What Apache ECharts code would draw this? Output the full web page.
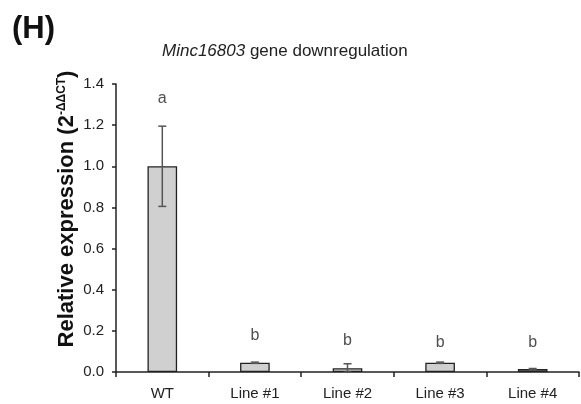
<!DOCTYPE html>
<html>
<head>
<meta charset="utf-8">
<script src="https://cdn.jsdelivr.net/npm/echarts@6/dist/echarts.min.js"></script>
<style>html,body{margin:0;padding:0;background:#fff;}#c{width:581px;height:404px;}</style>
</head>
<body>
<div id="c"></div>
<script>
const categories = ['WT', 'Line #1', 'Line #2', 'Line #3', 'Line #4'];
const values = [1.0, 0.045, 0.018, 0.045, 0.014];
const errors = [0.195, 0.003, 0.022, 0.003, 0.003];
const letters = ['a', 'b', 'b', 'b', 'b'];
const letterValues = [1.327, 0.175, 0.151, 0.142, 0.142];
const yTicks = [0, 0.2, 0.4, 0.6, 0.8, 1.0, 1.2, 1.4];

const chart = echarts.init(document.getElementById('c'), null, {renderer: 'canvas'});
const font = 'Liberation Sans, Arial, sans-serif';

chart.setOption({
  animation: false,
  backgroundColor: '#ffffff',
  title: [{
    text: '(H)',
    left: 7, top: 9,
    textStyle: {fontFamily: font, fontWeight: 'bold', fontSize: 31, color: '#111'}
  }, {
    text: '{i|Minc16803} gene downregulation',
    left: 157, top: 38,
    textStyle: {
      fontFamily: font, fontWeight: 'normal', fontSize: 17, color: '#222',
      rich: {i: {fontFamily: font, fontStyle: 'italic', fontSize: 17, color: '#222'}}
    }
  }],
  graphic: [{
    type: 'text',
    x: 67, y: 209,
    rotation: Math.PI / 2,
    style: {
      text: '{a|Relative expression (2}{s|-ΔΔCT}{a|)}',
      align: 'center',
      verticalAlign: 'middle',
      rich: {
        a: {fontFamily: font, fontWeight: 'bold', fontSize: 22, fill: '#111', color: '#111'},
        s: {fontFamily: font, fontWeight: 'bold', fontSize: 12, fill: '#111', color: '#111', verticalAlign: 'top', padding: [0, 0, 10, 0]}
      }
    }
  }],
  grid: {left: 116, right: 2, top: 84, bottom: 32},
  xAxis: {
    type: 'category',
    data: categories,
    axisLine: {lineStyle: {color: '#222', width: 1.5}},
    axisTick: {show: true, alignWithLabel: false, length: 5, lineStyle: {color: '#222', width: 1.5}},
    axisLabel: {fontFamily: font, fontSize: 15, color: '#222', margin: 14}
  },
  yAxis: {
    type: 'value',
    min: 0, max: 1.4, interval: 0.2,
    splitLine: {show: false},
    axisLine: {show: true, lineStyle: {color: '#222', width: 1.5}},
    axisTick: {show: true, length: 4, lineStyle: {color: '#222', width: 1.5}},
    axisLabel: {
      fontFamily: font, fontSize: 15, color: '#222', margin: 12,
      formatter: v => yTicks.some(t => Math.abs(t - v) < 1e-9) ? v.toFixed(1) : ''
    }
  },
  series: [{
    type: 'bar',
    data: values,
    barWidth: '32%',
    itemStyle: {color: '#d0d0d0', borderColor: '#222', borderWidth: 1.3},
    z: 2
  }, {
    type: 'custom',
    data: values.map((v, i) => [i, v, errors[i]]),
    z: 3,
    renderItem: function (params, api) {
      const i = api.value(0), v = api.value(1), e = api.value(2);
      const top = api.coord([i, v + e]);
      const bot = api.coord([i, Math.max(v - e, 0)]);
      const hw = 4;
      const style = {stroke: '#555', lineWidth: 1.5};
      return {
        type: 'group',
        children: [
          {type: 'line', shape: {x1: top[0], y1: top[1], x2: bot[0], y2: bot[1]}, style: style},
          {type: 'line', shape: {x1: top[0] - hw, y1: top[1], x2: top[0] + hw, y2: top[1]}, style: style},
          {type: 'line', shape: {x1: bot[0] - hw, y1: bot[1], x2: bot[0] + hw, y2: bot[1]}, style: style}
        ]
      };
    }
  }, {
    type: 'scatter',
    data: letterValues.map((v, i) => ({value: [i, v], name: letters[i]})),
    symbolSize: 0,
    label: {
      show: true, position: 'inside',
      formatter: p => p.name,
      fontFamily: font, fontSize: 16, color: '#222'
    },
    z: 4
  }]
});
</script>
</body>
</html>
